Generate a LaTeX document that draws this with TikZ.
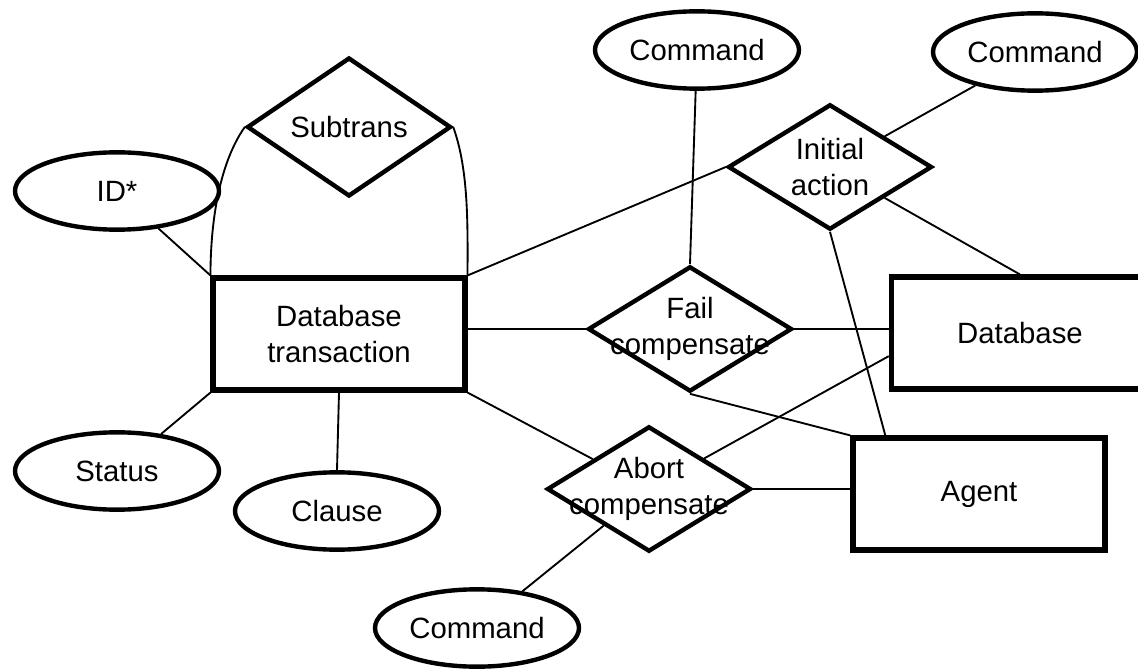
\documentclass[tikz,border=0pt]{standalone}
\usepackage{fontspec}
\setmainfont{Liberation Sans}
\usetikzlibrary{shapes.geometric, calc, positioning}

\begin{document}
\begin{tikzpicture}[x=0.75pt, y=-0.75pt,
    font=\fontsize{22}{27}\selectfont,
    entity/.style={draw, line width=3.8pt, minimum width=189pt, minimum height=84pt, align=center},
    relation/.style={diamond, draw, line width=3.3pt, minimum width=153pt, minimum height=94pt, inner sep=0pt, align=center},
    attrib/.style={ellipse, draw, line width=3.3pt, minimum width=153pt, minimum height=58pt, inner sep=0pt},
    link/.style={line width=1.4pt}]
      \useasboundingbox (0,0) rectangle (1138,670);
      %
      \node[entity] (dbt) at (339,334) {Database\\transaction};
      \node[entity, minimum width=193pt] (db) at (1020,333) {Database};
      \node[entity] (agent) at (979,494) {Agent};
      %
      \node[relation] (sub) at (349,127) {Subtrans};
      \node[relation] (init) at (830,167) {\makebox[0pt]{Initial}\\\makebox[0pt]{action}};
      \node[relation] (fail) at (690,329) {\makebox[0pt]{Fail}\\\makebox[0pt]{compensate}};
      \node[relation] (abort) at (649,489) {\makebox[0pt]{Abort}\\\makebox[0pt]{compensate}};
      %
      \node[attrib] (id) at (117,191) {ID*};
      \node[attrib] (status) at (117,471) {Status};
      \node[attrib] (clause) at (337,511) {Clause};
      \node[attrib] (cmdfail) at (697,50) {Command};
      \node[attrib] (cmdinit) at (1035,52) {Command};
      \node[attrib] (cmdabort) at (477,628) {Command};
      %
      \draw[link] (id) -- (dbt.north west);
      \draw[link] (status) -- (dbt.south west);
      \draw[link] (dbt.south) -- (clause.north);
      \draw[link] (sub.west) to[out=235, in=90, looseness=0.8] (dbt.north west);
      \draw[link] (sub.east) to[out=-70, in=90, looseness=0.8] (dbt.north east);
      %
      \draw[link] (dbt.north east) -- (init.west);
      \draw[link] (fail.west) -- (fail.west -| dbt.east);
      \draw[link] (dbt.south east) -- (abort);
      %
      \draw[link] (cmdinit) -- (init);
      \draw[link] (init) -- (db.north);
      \draw[link] (init.south) -- (agent.148);
      \draw[link] (cmdfail) -- (fail.north);
      \draw[link] (fail.east) -- (fail.east -| db.west);
      \draw[link] (fail.south) -- (agent.north west);
      \draw[link] (abort) -- (db.190);
      \draw[link] (abort.east) -- (abort.east -| agent.west);
      \draw[link] (abort) -- (cmdabort);
    \end{tikzpicture}
\end{document}
